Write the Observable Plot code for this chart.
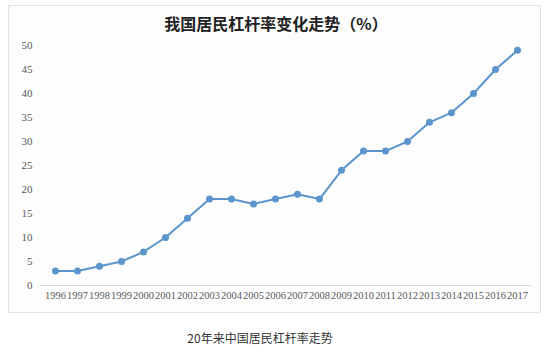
<!DOCTYPE html>
<html>
<head>
<meta charset="utf-8">
<script src="https://cdn.jsdelivr.net/npm/d3@7"></script>
<script src="https://cdn.jsdelivr.net/npm/@observablehq/plot@0.6"></script>
<style>
  html, body { margin: 0; padding: 0; background: #fff; }
  #wrap { position: relative; width: 557px; height: 352px; overflow: hidden; }
  #frame { position: absolute; left: 8px; top: 5px; width: 533px; height: 308px; border: 1px solid #e2e2e2; background: #fdfdfe; box-sizing: border-box; }
  #title { position: absolute; left: 0; width: 552px; top: 12px; text-align: center; font-family: "Noto Sans CJK SC", sans-serif; font-weight: 700; font-size: 16px; color: #222; line-height: 22px; }
  #chart { position: absolute; left: 0; top: 30px; }
  #caption { position: absolute; left: 0; width: 520px; top: 329px; text-align: center; font-family: "Noto Sans CJK SC", sans-serif; font-size: 12px; color: #333; line-height: 18px; }
</style>
</head>
<body>
<div id="wrap">
  <div id="frame"></div>
  <div id="title">我国居民杠杆率变化走势（%）</div>
  <div id="chart"></div>
  <div id="caption">20年来中国居民杠杆率走势</div>
</div>
<script>
const years = ["1996","1997","1998","1999","2000","2001","2002","2003","2004","2005","2006","2007","2008","2009","2010","2011","2012","2013","2014","2015","2016","2017"];
const leverage = [3,3,4,5,7,10,14,18,18,17,18,19,18,24,28,28,30,34,36,40,45,49];
const yTicks = [0,5,10,15,20,25,30,35,40,45,50];

const data = years.map((y, i) => ({year: y, value: leverage[i]}));
const color = "#5b95cb";

const chart = Plot.plot({
  width: 557,
  height: 280,
  marginLeft: 40,
  marginRight: 26,
  marginTop: 15,
  marginBottom: 25,
  style: { background: "transparent", fontFamily: "'Liberation Serif', serif", fontSize: "10.5px", color: "#595959" },
  x: { type: "point", domain: years, padding: 0.5, label: null },
  y: { domain: [0, 50], label: null },
  marks: [
    Plot.axisY({ ticks: yTicks, tickSize: 0, tickPadding: 8, label: null, fontSize: 11 }),
    Plot.axisX({ tickSize: 0, tickPadding: 6, label: null, fontSize: 10.5 }),
    Plot.ruleY([0], { stroke: "#d9d9d9", strokeWidth: 1 }),
    Plot.line(data, { x: "year", y: "value", stroke: color, strokeWidth: 2 }),
    Plot.dot(data, { x: "year", y: "value", fill: color, r: 3.5 })
  ]
});
document.getElementById("chart").appendChild(chart);
</script>
</body>
</html>
